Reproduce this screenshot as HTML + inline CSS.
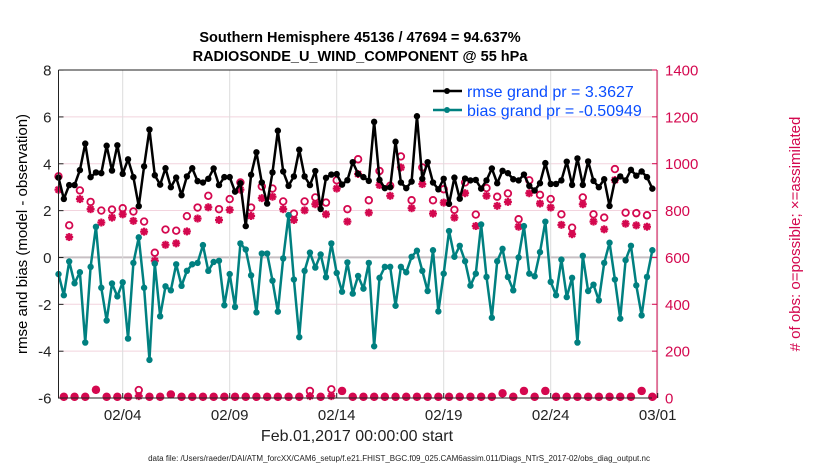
<!DOCTYPE html>
<html><head><meta charset="utf-8"><style>
body{margin:0;background:#fff;}
svg{display:block;font-family:"Liberation Sans",sans-serif;}
</style></head><body>
<svg id="chart" width="830" height="470" xmlns="http://www.w3.org/2000/svg">
<rect width="830" height="470" fill="#fff"/>
<g id="grid"></g><g id="marks"></g><g id="axes"></g>
<text x="360" y="42" text-anchor="middle" font-size="14.5" font-weight="bold">Southern Hemisphere 45136 / 47694 = 94.637%</text>
<text x="360" y="61" text-anchor="middle" font-size="14.5" font-weight="bold">RADIOSONDE_U_WIND_COMPONENT @ 55 hPa</text>
<text transform="translate(27,234) rotate(-90)" text-anchor="middle" font-size="15">rmse and bias (model - observation)</text>
<text transform="translate(800,234) rotate(-90)" text-anchor="middle" font-size="15" fill="#d4084f"># of obs: o=possible; ×=assimilated</text>
<text x="357" y="441" text-anchor="middle" font-size="16" fill="#222">Feb.01,2017 00:00:00 start</text>
<text x="399" y="461" text-anchor="middle" font-size="8" fill="#222">data file: /Users/raeder/DAI/ATM_forcXX/CAM6_setup/f.e21.FHIST_BGC.f09_025.CAM6assim.011/Diags_NTrS_2017-02/obs_diag_output.nc</text>
<g>
<line x1="433" y1="91" x2="462" y2="91" stroke="#000" stroke-width="2.5"/><circle cx="447" cy="91" r="3" fill="#000"/>
<text x="467" y="97" font-size="16" fill="#0a4dff">rmse grand pr = 3.3627</text>
<line x1="433" y1="110" x2="462" y2="110" stroke="#008080" stroke-width="2.5"/><circle cx="447" cy="110" r="3" fill="#008080"/>
<text x="467" y="116" font-size="16" fill="#0a4dff">bias grand pr = -0.50949</text>
</g>
</svg>
<script>
const rmse=[3.41,2.5,3.09,3.09,3.73,4.86,3.43,3.63,3.6,4.77,3.71,4.79,3.57,4.19,3.43,2.19,3.89,5.46,3.51,3.11,3.81,3.0,3.41,2.66,3.46,3.81,3.26,3.2,
3.36,3.8,3.09,3.43,3.43,2.81,3.17,1.34,3.53,4.49,3.2,2.3,3.63,5.41,3.67,3.06,3.46,4.6,3.46,3.09,3.69,2.07,3.4,3.54,3.56,3.11,3.3,4.07,
3.57,3.43,3.27,5.79,3.31,2.96,3.0,4.94,3.2,2.96,3.24,6.03,3.36,4.07,3.2,2.91,3.36,2.29,3.41,2.51,3.37,3.29,3.31,2.94,3.29,3.8,3.17,3.7,
3.6,3.34,3.29,3.54,3.06,2.86,3.17,4.03,3.14,3.14,3.29,4.09,3.1,4.23,3.1,4.1,3.27,3.0,3.34,2.2,3.29,3.46,3.29,3.74,3.49,3.67,3.43,2.94];
const bias=[-0.71,-1.61,-0.17,-1.1,-0.63,-3.63,-0.4,1.31,-1.29,-2.69,-1.11,-1.66,-1.06,-3.46,-0.23,0.86,-1.29,-4.37,-0.26,-2.51,-1.23,-1.4,-0.29,-1.21,-0.57,-0.29,-0.23,0.53,
-0.57,-0.19,-0.14,-2.04,-0.71,-2.11,0.6,0.34,-0.76,-2.34,0.17,0.17,-0.99,-2.31,-0.04,1.81,-0.94,-3.4,-0.57,0.21,-0.43,0.13,-0.84,0.6,-0.66,-1.46,-0.21,-1.54,
-0.79,-1.33,-0.23,-3.79,-0.87,-0.4,-0.4,-2.06,-0.4,-0.63,0.03,0.29,-0.57,-1.43,0.31,-2.3,-0.69,1.13,0.03,0.5,-0.16,-1.2,-0.69,1.41,-0.83,-2.57,-0.16,0.37,
-0.83,-1.4,0,1.34,-0.69,-0.8,0.23,1.53,-1.04,-1.61,-0.09,-1.69,-0.87,-3.63,0.07,-1.43,-1.16,-1.83,-0.23,0.63,-0.94,-2.61,-0.11,0.5,-1.19,-2.47,-0.83,0.31];
const possible=[946,5,737,5,886,5,837,35,800,5,804,5,810,5,796,34,753,5,620,5,719,15,714,5,776,5,813,5,
863,5,806,5,849,5,920,5,813,5,903,5,894,5,839,5,787,5,839,30,856,5,834,37,929,30,806,5,
1019,5,844,5,969,5,906,5,1031,5,844,5,984,5,844,5,891,5,803,5,920,5,783,5,896,5,859,20,
873,5,763,30,929,5,867,30,849,5,784,5,727,5,856,5,784,5,770,5,977,5,791,5,789,30,780,5];
const assimilated=[889,5,687,5,849,5,806,35,749,5,770,5,784,5,756,8,710,5,586,5,654,15,660,5,711,5,766,5,
814,5,760,5,803,5,889,5,777,5,853,5,859,5,806,5,760,5,801,8,827,5,784,8,894,30,753,5,
956,5,791,5,909,5,863,5,984,5,810,5,913,5,787,5,834,5,770,5,874,5,734,5,863,5,820,20,
837,5,731,30,874,5,830,30,813,5,739,5,699,5,827,5,753,5,720,5,930,5,744,5,737,30,731,5];
const leftTicks=[8,6,4,2,0,-2,-4,-6];
const rightTicks=[0,200,400,600,800,1000,1200,1400];
const xTickLabels=["02/04","02/09","02/14","02/19","02/24","03/01"];
const xTickDays=[3,8,13,18,23,28];

const NS="http://www.w3.org/2000/svg";
const L=58.5,R=657,T=70,B=398;
const xs=d=>L+21.4*d;
const ys=v=>257.5-23.43*v;
const yc=c=>B-c*0.2343;
const xi=i=>xs(i*0.25);
function mk(tag,attrs,parent){const e=document.createElementNS(NS,tag);for(const k in attrs)e.setAttribute(k,attrs[k]);parent.appendChild(e);return e;}
const grid=document.getElementById('grid'),marks=document.getElementById('marks'),axes=document.getElementById('axes');
rightTicks.forEach(c=>{const l=mk('line',{x1:L,x2:R,y1:yc(c),y2:yc(c),stroke:c===600?'#c8c0c4':'#f2d4de','stroke-width':c===600?2:1},grid);

});
xTickDays.forEach(d=>{const l=mk('line',{x1:xs(d),x2:xs(d),y1:T,y2:B,stroke:'#dcdcdc','stroke-width':1},grid);

});
const CR='#d4084f';
possible.forEach((c,i)=>{const e=mk('circle',{cx:xi(i),cy:yc(c),r:3.3,fill:'none',stroke:CR,'stroke-width':1.8},marks);

});
assimilated.forEach((c,i)=>{const x=xi(i),y=yc(c),r=4;
const g=mk('g',{stroke:CR,'stroke-width':2.2},marks);


mk('line',{x1:x-r,x2:x+r,y1:y,y2:y},g);mk('line',{x1:x,x2:x,y1:y-r,y2:y+r},g);
mk('line',{x1:x-2.9,x2:x+2.9,y1:y-2.9,y2:y+2.9},g);mk('line',{x1:x-2.9,x2:x+2.9,y1:y+2.9,y2:y-2.9},g);});
function series(arr,col,name){
const p=mk('polyline',{points:arr.map((v,i)=>xi(i)+','+ys(v)).join(' '),fill:'none',stroke:col,'stroke-width':2.5,'stroke-linejoin':'round'},marks);


arr.forEach((v,i)=>{const c=mk('circle',{cx:xi(i),cy:ys(v),r:3.2,fill:col},marks);

});}
series(bias,'#008080','bias');
series(rmse,'#000','rmse');
const fr=mk('path',{d:`M${L},${T}V${B}H${R}`,fill:'none',stroke:'#222','stroke-width':1},axes);


const ra=mk('line',{x1:R,x2:R,y1:T,y2:B,stroke:CR,'stroke-width':1},axes);


const ta=mk('line',{x1:L,x2:R,y1:T,y2:T,stroke:'#222','stroke-width':1},axes);


leftTicks.forEach(v=>{mk('line',{x1:L,x2:L+5,y1:ys(v),y2:ys(v),stroke:'#222'},axes);
const t=mk('text',{x:L-7,y:ys(v)+5.5,'text-anchor':'end','font-size':15,fill:'#222'},axes);t.textContent=v;

});
rightTicks.forEach(c=>{mk('line',{x1:R-5,x2:R,y1:yc(c),y2:yc(c),stroke:CR},axes);
const t=mk('text',{x:R+8,y:yc(c)+5.5,'font-size':15,fill:CR},axes);t.textContent=c;

});
xTickDays.forEach((d,k)=>{mk('line',{x1:xs(d),x2:xs(d),y1:B,y2:B-5,stroke:'#222'},axes);
const t=mk('text',{x:xs(d),y:B+22,'text-anchor':'middle','font-size':15,fill:'#222'},axes);t.textContent=xTickLabels[k];

});
</script>
</body></html>
